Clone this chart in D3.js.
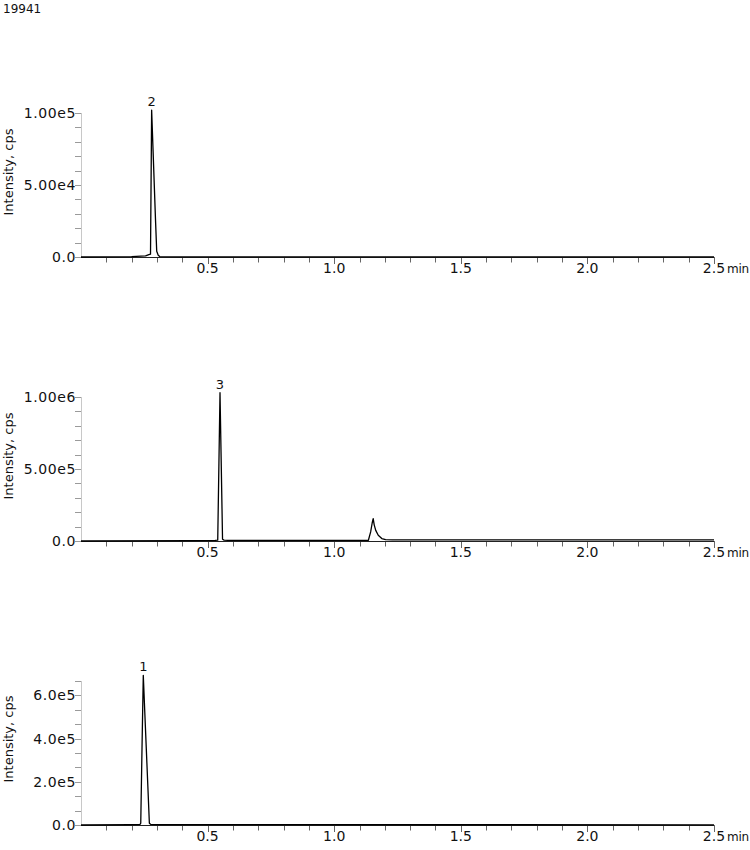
<!DOCTYPE html>
<html>
<head>
<meta charset="utf-8">
<script src="https://cdn.jsdelivr.net/npm/d3@7"></script>
<style>
  html, body { margin: 0; padding: 0; background: #fff; }
  svg { display: block; font-family: "DejaVu Sans", Verdana, sans-serif; }
</style>
</head>
<body>
<svg id="chart" width="750" height="850"></svg>
<script>
// ---- Data ----
const sampleName = "19941";
const xTicks = [0.5, 1.0, 1.5, 2.0, 2.5];
const xUnit = "min";
const yTitle = "Intensity, cps";

// Panel 1 (peak 2)
const times1 = [0.00, 0.20, 0.255, 0.268, 0.2745, 0.2790, 0.2840, 0.2890, 0.2940, 0.2990, 0.3050, 0.3110, 0.40, 2.50];
const vals1  = [0, 300, 800, 1700, 2000, 102000, 77000, 52000, 27000, 4000, 1200, 300, 100, 100];
const yTicks1 = [0, 50000, 100000];
const yTickLabels1 = ["0.0", "5.00e4", "1.00e5"];
const peakLabel1 = {t: 0.279, v: 102000, label: "2"};

// Panel 2 (peak 3 + secondary peak)
const times2 = [0.00, 0.45, 0.53, 0.540, 0.549, 0.554, 0.559, 0.565, 0.58, 1.10, 1.135, 1.144, 1.150, 1.154, 1.158, 1.164, 1.174, 1.188, 1.203, 1.230, 2.50];
const vals2  = [0, 2000, 4000, 6000, 1030000, 520000, 12000, 6000, 4000, 4000, 5000, 63000, 125000, 155000, 112000, 74000, 40000, 17000, 9000, 8000, 8000];
const yTicks2 = [0, 500000, 1000000];
const yTickLabels2 = ["0.0", "5.00e5", "1.00e6"];
const peakLabel2 = {t: 0.549, v: 1030000, label: "3"};

// Panel 3 (peak 1)
const times3 = [0.00, 0.20, 0.233, 0.236, 0.241, 0.246, 0.252, 0.258, 0.264, 0.270, 0.276, 0.30, 2.50];
const vals3  = [0, 1500, 2500, 8000, 360000, 693000, 520000, 350000, 180000, 8000, 2500, 1500, 1000];
const yTicks3 = [0, 200000, 400000, 600000];
const yTickLabels3 = ["0.0", "2.0e5", "4.0e5", "6.0e5"];
const peakLabel3 = {t: 0.246, v: 693000, label: "1"};

const panels = [
  {times: times1, vals: vals1, yMax: 100000, yTicks: yTicks1, yLabels: yTickLabels1, minorStep: 10000, peak: peakLabel1, bottom: 257, titleY: 172},
  {times: times2, vals: vals2, yMax: 1000000, yTicks: yTicks2, yLabels: yTickLabels2, minorStep: 100000, peak: peakLabel2, bottom: 541, titleY: 456},
  {times: times3, vals: vals3, yMax: 666667, yTicks: yTicks3, yLabels: yTickLabels3, minorStep: 200000/3, peak: peakLabel3, bottom: 825, titleY: 739}
];

const svg = d3.select("#chart");
const left = 81, right = 714, plotH = 144;

svg.append("text").attr("x", 3).attr("y", 13).attr("font-size", 12).attr("fill", "#111").text(sampleName);

const x = d3.scaleLinear().domain([0, 2.5]).range([left, right]);
const xMinor = d3.range(1, 26).map(i => i / 10);

panels.forEach(p => {
  const y = d3.scaleLinear().domain([0, p.yMax]).range([p.bottom, p.bottom - plotH]);
  const g = svg.append("g");

  // y axis line
  g.append("line").attr("x1", left + 0.5).attr("x2", left + 0.5)
    .attr("y1", y(p.yMax)).attr("y2", y(0)).attr("stroke", "#c8c8c8").attr("stroke-width", 1);

  // y minor ticks
  const nMinor = Math.round(p.yMax / p.minorStep);
  const yMinor = d3.range(0, nMinor + 1).map(i => i * p.minorStep);
  g.selectAll(".ym").data(yMinor).join("line")
    .attr("x1", left - 6).attr("x2", left)
    .attr("y1", d => Math.round(y(d)) + 0.5).attr("y2", d => Math.round(y(d)) + 0.5)
    .attr("stroke", "#9a9a9a").attr("stroke-width", 1);

  // y tick labels
  g.selectAll(".yl").data(p.yTicks).join("text")
    .attr("x", 76).attr("y", d => y(d)).attr("dy", "0.35em")
    .attr("text-anchor", "end").attr("font-size", 14).attr("letter-spacing", 0.6).attr("fill", "#111")
    .text((d, i) => p.yLabels[i]);

  // y title
  g.append("text").attr("transform", `translate(12.5,${p.titleY}) rotate(-90)`)
    .attr("text-anchor", "middle").attr("font-size", 13).attr("fill", "#111").text(yTitle);

  // x ticks
  g.selectAll(".xm").data(xMinor).join("line")
    .attr("x1", d => Math.round(x(d)) + 0.5).attr("x2", d => Math.round(x(d)) + 0.5)
    .attr("y1", p.bottom).attr("y2", d => p.bottom + (Math.abs(d * 2 - Math.round(d * 2)) < 1e-6 ? 7 : 5.5))
    .attr("stroke", "#666").attr("stroke-width", 1);

  // x axis line
  g.append("line").attr("x1", left).attr("x2", right)
    .attr("y1", p.bottom + 0.5).attr("y2", p.bottom + 0.5).attr("stroke", "#222").attr("stroke-width", 1.2);

  // x tick labels
  g.selectAll(".xl").data(xTicks).join("text")
    .attr("x", d => x(d)).attr("y", p.bottom + 16)
    .attr("text-anchor", "middle").attr("font-size", 14).attr("fill", "#111")
    .text(d => d.toFixed(1));
  g.append("text").attr("x", 727).attr("y", p.bottom + 16)
    .attr("font-size", 12).attr("letter-spacing", -0.3).attr("fill", "#111").text(xUnit);

  // trace
  const pts = p.times.map((t, i) => [t, p.vals[i]]);
  const line = d3.line().x(d => x(d[0])).y(d => y(d[1]));
  g.append("path").attr("d", line(pts)).attr("fill", "none")
    .attr("stroke", "#000").attr("stroke-width", 1.3).attr("stroke-linejoin", "round");

  // peak label
  g.append("text").attr("x", x(p.peak.t)).attr("y", y(p.peak.v) - 4)
    .attr("text-anchor", "middle").attr("font-size", 13).attr("fill", "#111").text(p.peak.label);
});
</script>
</body>
</html>
